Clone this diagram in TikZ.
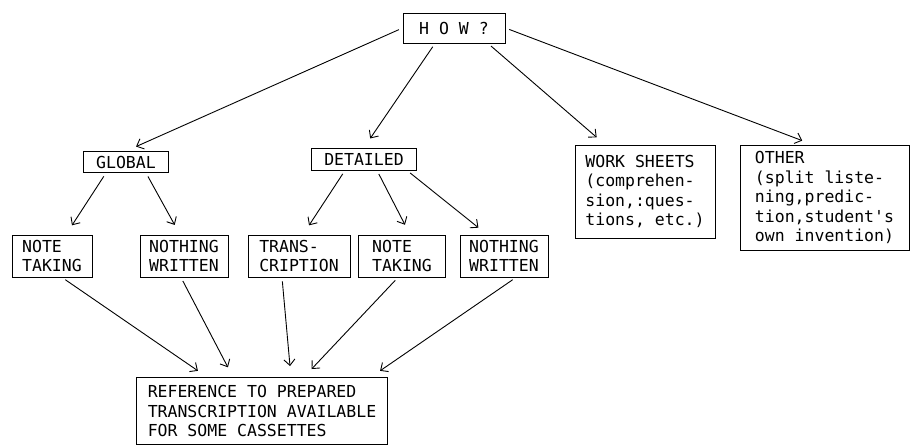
\documentclass[tikz,border=0pt]{standalone}
\usepackage{fontspec}
\setmonofont{DejaVu Sans Mono}
\usetikzlibrary{arrows.meta}

\begin{document}
\begin{tikzpicture}[x=1pt, y=-1pt, >={Straight Barb[length=6pt,width=11pt]},
    font=\ttfamily\fontsize{16.5}{19.5}\selectfont, line width=0.9pt]
    \tikzstyle{box}=[draw, align=left, inner sep=2pt, minimum height=42pt]
    \tikzstyle{link}=[->, shorten <=4pt, shorten >=11pt]
    \useasboundingbox (0,0) rectangle (911,446);

    \node[box, minimum width=102pt, minimum height=30pt] (how) at (454,28) {H O W ?};
    \node[box, minimum width=85pt, minimum height=21pt] (global) at (126,162) {GLOBAL};
    \node[box, minimum width=105pt, minimum height=22pt] (detailed) at (364,159) {DETAILED};
    \node[box, minimum width=140pt, minimum height=93pt] (sheets) at (645,191.5)
      {WORK SHEETS\\(comprehen-\\sion,:ques-\\tions, etc.)};
    \node[box, minimum width=169pt, minimum height=105pt] (other) at (824.5,197.5)
      {OTHER\\(split liste-\\ning,predic-\\tion,student's\\own invention)};

    \node[box, minimum width=80pt] (nt1) at (52,256) {NOTE\\TAKING};
    \node[box, minimum width=88pt, right of=nt1, node distance=132pt] (nw1) {NOTHING\\WRITTEN};
    \node[box, minimum width=102pt, right of=nw1, node distance=115pt] (trans) {TRANS-\\CRIPTION};
    \node[box, minimum width=87pt, right of=trans, node distance=103pt] (nt2) {NOTE\\TAKING};
    \node[box, minimum width=88pt, right of=nt2, node distance=102pt] (nw2) {NOTHING\\WRITTEN};

    \node[box, minimum width=251pt, minimum height=67pt] (ref) at (262,411)
      {REFERENCE TO PREPARED\\TRANSCRIPTION AVAILABLE\\FOR SOME CASSETTES};

    \draw[link] (how.west) -- (global.north);
    \draw[link] ([xshift=-19pt]how.south) -- (detailed.north);
    \draw[link] ([xshift=34pt]how.south) -- ([xshift=-40pt]sheets.north);
    \draw[link] (how.east) -- ([xshift=-12pt]other.north);

    \draw[link] ([xshift=-20pt]global.south) -- ([xshift=14pt]nt1.north);
    \draw[link] ([xshift=20pt]global.south) -- ([xshift=-4pt]nw1.north);
    \draw[link] ([xshift=-19pt]detailed.south) -- ([xshift=4pt]trans.north);
    \draw[link] ([xshift=13pt]detailed.south) -- ([xshift=8pt]nt2.north);
    \draw[link] ([xshift=43pt]detailed.south) -- ([xshift=-17pt]nw2.north);

    \draw[link] ([xshift=10pt]nt1.south) -- ([xshift=-55pt]ref.north);
    \draw[link] ([xshift=-3pt]nw1.south) -- ([xshift=-29pt]ref.north);
    \draw[link] ([xshift=-17pt]trans.south) -- ([xshift=29pt]ref.north);
    \draw[link] ([xshift=-4pt]nt2.south) -- ([xshift=42pt]ref.north);
    \draw[link] ([xshift=12pt]nw2.south) -- ([xshift=109pt]ref.north);
  \end{tikzpicture}
\end{document}
